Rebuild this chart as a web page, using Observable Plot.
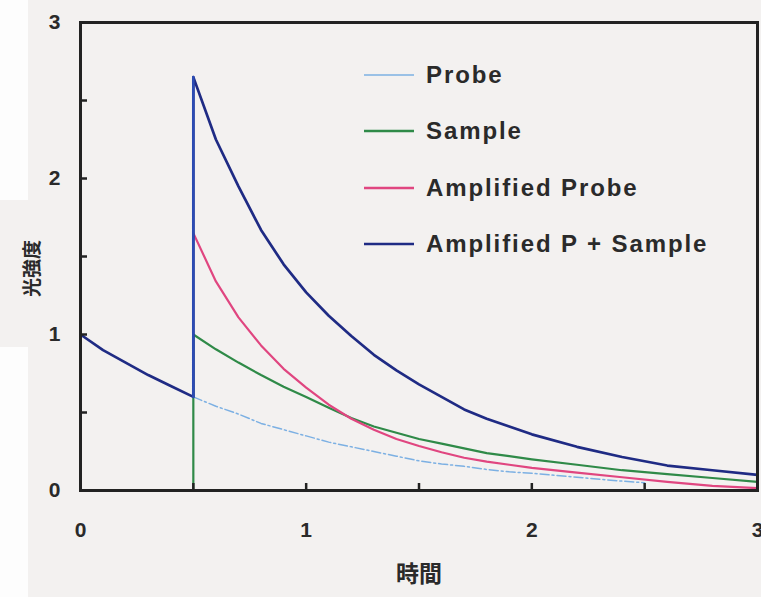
<!DOCTYPE html>
<html>
<head>
<meta charset="utf-8">
<script src="https://cdn.jsdelivr.net/npm/d3@7"></script>
<script src="https://cdn.jsdelivr.net/npm/@observablehq/plot@0.6"></script>
<style>
  html, body { margin: 0; padding: 0; background: #f3f1f0; }
  #wrap { position: relative; width: 761px; height: 597px; overflow: hidden; }
  .strip { position: absolute; left: 0; width: 28px; background: #fdfdfd; }
  #chart { position: absolute; left: 0; top: 0; }
  #legend { position: absolute; left: 362px; top: 47px; font-family: "Liberation Sans", Arial, sans-serif;
            font-weight: bold; font-size: 24px; letter-spacing: 1.9px; color: #2a2a2a; }
  #legend .row { display: flex; align-items: center; height: 56.3px; }
  #legend svg { width: 58px; height: 10px; margin-right: 6px; }
</style>
</head>
<body>
<div id="wrap">
  <div class="strip" style="top:0;height:200px"></div>
  <div class="strip" style="top:347px;height:250px"></div>
  <div id="chart"></div>
  <div id="legend"></div>
</div>
<script>
// Light intensity vs. time for the probe, the sample and the amplified signals
const seriesNames = ["Probe", "Sample", "Amplified Probe", "Amplified P + Sample"];
const seriesColors = ["#7cb0e3", "#2f8a48", "#e04680", "#1f2b84"];

// Probe decay, from t = 0
const probeT = [0, 0.1, 0.2, 0.3, 0.4, 0.5, 0.6, 0.7, 0.8, 0.9, 1.0, 1.1, 1.2, 1.3, 1.4, 1.5, 1.6, 1.7, 1.8, 1.9, 2.0, 2.2, 2.4, 2.5];
const probeV = [1.0, 0.9, 0.82, 0.74, 0.67, 0.6, 0.54, 0.49, 0.43, 0.39, 0.35, 0.31, 0.28, 0.25, 0.22, 0.19, 0.17, 0.155, 0.135, 0.12, 0.11, 0.085, 0.06, 0.05];

// Signals after the pulse at t = 0.5
const pulseT = [0.5, 0.6, 0.7, 0.8, 0.9, 1.0, 1.1, 1.2, 1.3, 1.4, 1.5, 1.6, 1.7, 1.8, 1.9, 2.0, 2.2, 2.4, 2.6, 2.8, 3.0];
const sampleV = [1.0, 0.905, 0.82, 0.74, 0.665, 0.6, 0.53, 0.465, 0.41, 0.37, 0.33, 0.3, 0.27, 0.24, 0.22, 0.2, 0.165, 0.13, 0.105, 0.08, 0.055];
const ampProbeV = [1.65, 1.34, 1.11, 0.93, 0.78, 0.66, 0.55, 0.46, 0.39, 0.33, 0.285, 0.245, 0.21, 0.185, 0.165, 0.145, 0.115, 0.085, 0.055, 0.03, 0.015];
const ampSumV = [2.65, 2.25, 1.95, 1.67, 1.45, 1.27, 1.12, 0.99, 0.87, 0.77, 0.68, 0.6, 0.52, 0.46, 0.41, 0.36, 0.28, 0.215, 0.16, 0.13, 0.1];

const xTickLabels = [0, 1, 2, 3];
const yTickLabels = [0, 1, 2, 3];
const minorTicks = [0.5, 1, 1.5, 2, 2.5];

const pts = (ts, vs) => ts.map((t, i) => ({t, v: vs[i]}));
const probe = pts(probeT, probeV);
const probeBefore = probe.filter(d => d.t <= 0.5);
const probeAfter = probe.filter(d => d.t >= 0.5);
const sample = [{t: pulseT[0], v: 0}, ...pts(pulseT, sampleV)];
const ampProbe = pts(pulseT, ampProbeV);
const ampSum = [...probeBefore, ...pts(pulseT, ampSumV)];
const jump = [probeBefore[probeBefore.length - 1], {t: pulseT[0], v: ampSumV[0]}];

const W = 761, H = 597, mL = 80, mR = 4, mT = 22, mB = 107;
const textColor = "#2a2a2a";

const chart = Plot.plot({
  width: W, height: H,
  marginLeft: mL, marginRight: mR, marginTop: mT, marginBottom: mB,
  style: {background: "transparent", fontFamily: "'Liberation Sans', Arial, sans-serif", fontWeight: "bold", color: textColor},
  x: {domain: [0, 3]},
  y: {domain: [0, 3]},
  marks: [
    Plot.line(sample, {x: "t", y: "v", stroke: seriesColors[1], strokeWidth: 2.2}),
    Plot.line(probeAfter, {x: "t", y: "v", stroke: seriesColors[0], strokeWidth: 1.5, strokeDasharray: "9,3,2,3"}),
    Plot.line(ampProbe, {x: "t", y: "v", stroke: seriesColors[2], strokeWidth: 2.2}),
    Plot.line(ampSum, {x: "t", y: "v", stroke: seriesColors[3], strokeWidth: 2.7}),
    Plot.line(jump, {x: "t", y: "v", stroke: "#2c4cb4", strokeWidth: 2.6}),
    Plot.tickX(minorTicks, {x: d => d, insetTop: (H - mT - mB) - 7, stroke: "#222", strokeWidth: 2.5}),
    Plot.tickY(minorTicks, {y: d => d, insetRight: (W - mL - mR) - 7, stroke: "#222", strokeWidth: 2.5}),
    Plot.frame({stroke: "#222", strokeWidth: 3}),
    Plot.axisX(xTickLabels, {tickSize: 0, tickPadding: 32, tickFormat: "d", fontSize: 21, fontWeight: "bold", label: null}),
    Plot.axisY(yTickLabels, {tickSize: 0, tickPadding: 20, tickFormat: "d", fontSize: 21, fontWeight: "bold", label: null}),
    Plot.text(["時間"], {frameAnchor: "bottom", dy: 91, fontSize: 23, fontWeight: "bold", fontFamily: "'Noto Sans CJK JP', sans-serif", fill: textColor}),
    Plot.text(["光強度"], {frameAnchor: "left", textAnchor: "middle", dx: -48, dy: 12, rotate: -90, fontSize: 19, fontWeight: "bold", fontFamily: "'Noto Sans CJK JP', sans-serif", fill: textColor})
  ]
});
document.getElementById("chart").append(chart);

// Legend rows: a short line sample then the series name
const legend = d3.select("#legend");
seriesNames.forEach((name, i) => {
  const row = legend.append("div").attr("class", "row");
  const sw = row.append("svg").attr("viewBox", "0 0 58 10");
  sw.append("line").attr("x1", 2).attr("x2", 52).attr("y1", 5).attr("y2", 5)
    .attr("stroke", seriesColors[i]).attr("stroke-width", i === 0 ? 1.5 : 2.5);
  row.append("span").text(name);
});
</script>
</body>
</html>
